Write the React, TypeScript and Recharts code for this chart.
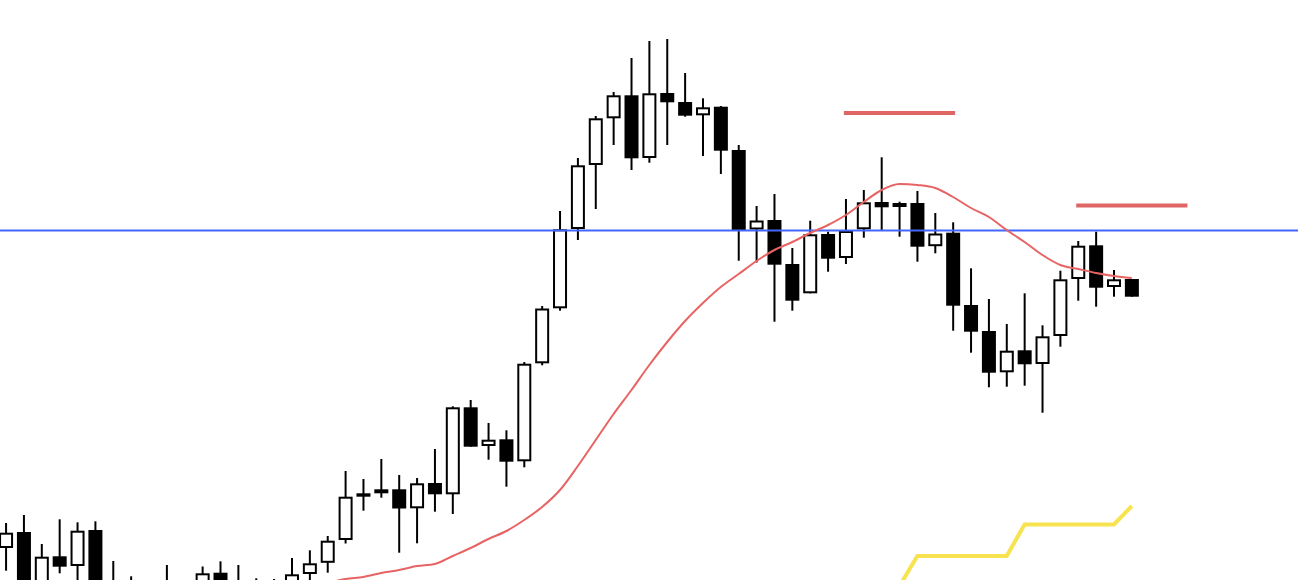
import React from 'react';
import { ComposedChart, XAxis, YAxis, Bar, Line, ReferenceLine } from 'recharts';

// Price values (arbitrary price units, 0..580 visible)
const opens = [
  32, 48, -5, 23.7, 14, 50, -2, -5,
  -8, -6, -10, -4, 7.3, -3, -6, -8,
  -4, 6, 17.2, 40, 86.7, 86.7, 90.7, 71.7,
  97, 85.7, 172.7, 134, 140.7, 118.7, 216.7, 271.7,
  351, 415, 461.7, 484.7, 422, 487, 478, 464.7,
  473.3, 430, 350.5, 360, 316, 286.7, 346, 322,
  350.7, 378, 373, 377, 333.8, 347.3, 275, 249,
  207.7, 229.7, 216, 244, 301, 334.7, 293, 301,
];
const highs = [
  57, 65, 36, 60.7, 57.7, 58.7, 19, 3.7,
  -3, 15, -2, 13.5, 18.7, 15, 1.7, 1,
  22, 29.7, 44, 109, 101, 121, 105, 102,
  131, 173.7, 180, 157, 149.7, 218, 274, 369,
  422, 464, 488, 522, 539, 541, 507, 481.7,
  474, 435, 374, 386, 332, 359.3, 348.3, 381,
  390, 422.7, 378.3, 389, 367, 357.7, 311.7, 281,
  256, 286.7, 254.7, 309.3, 339, 348.3, 310, 301,
];
const lows = [
  9.3, -20, -15, 6.7, -4, -18, -20, -25,
  -22, -24, -18, -12, -14, -18, -14, -12,
  -12, -4, 7.3, 36.5, 69.3, 82.3, 27.3, 36.7,
  68.3, 66, 133.3, 120.3, 93.3, 112.7, 214.7, 269.3,
  340, 371, 435, 410, 417.3, 435, 463.3, 424,
  406, 319.3, 317.5, 258.3, 269.3, 286.7, 308.3, 316,
  342.3, 350, 343.3, 318.3, 326.7, 249.3, 227.3, 192.7,
  193.3, 194.3, 167.3, 233.3, 279.3, 273.3, 283.3, 283.3,
];
const closes = [
  47.3, -10, 23.3, 13.3, 49.3, -8, -12, -15,
  -14, -12, -6, 6.7, -6, -10, -2, -3,
  5.7, 16.7, 39.3, 83.3, 83.3, 90.7, 71.5, 96.7,
  85.7, 172.7, 133.3, 140.3, 118.3, 216.3, 271.5, 350.7,
  414.7, 461.7, 484.7, 421.7, 486.7, 477.7, 464.3, 472.7,
  429.3, 350, 359.5, 315.3, 279.3, 345.7, 321.3, 349,
  377.7, 372.7, 377, 333.3, 346.5, 274.3, 248.3, 207.3,
  229.3, 215.7, 243.7, 300.7, 334.3, 292.3, 300.7, 283.3,
];
// moving average (starts at bar 18)
const maStart = 18;
const maValues = [
  -3, 1, 3, 7, 10, 14, 16, 24,
  32, 41, 49, 60, 73, 90, 114, 140,
  166, 190, 215, 238, 259, 277, 293, 306,
  319, 330, 338, 347, 355, 365, 378, 390,
  396, 395, 392, 383, 372, 363, 350, 338,
  325, 315, 311, 307, 304, 302,
];
// trailing stop line (starts at bar 50)
const stopStart = 50;
const stopValues = [-6, 24, 24, 24, 24, 24, 24, 55.5, 55.5, 55.5, 55.5, 55.5, 55.5, 74];

const redLevels = [
  { from: 47, to: 53, value: 467 },
  { from: 60, to: 66, value: 374.5 },
];
const blueLevel = 349.5;

const data = opens.map((o, i) => ({
  i,
  open: o,
  high: highs[i],
  low: lows[i],
  close: closes[i],
  ma: i >= maStart && i - maStart < maValues.length ? maValues[i - maStart] : null,
  stop: i >= stopStart && i - stopStart < stopValues.length ? stopValues[i - stopStart] : null,
}));

const Candle = (props: any) => {
  const { x, y, width, height, payload } = props;
  if (!payload) return null;
  const { open, close, high, low } = payload;
  const top = Math.min(y, y + height);
  const h = Math.abs(height);
  const ratio = h / (high - low || 1);
  const cx = x + width / 2;
  const yO = top + (high - open) * ratio;
  const yC = top + (high - close) * ratio;
  const bullish = close >= open;
  const bt = Math.min(yO, yC);
  const bb = Math.max(yO, yC);
  return (
    <g>
      <line x1={cx} x2={cx} y1={top} y2={top + h} stroke="#000" strokeWidth={2} />
      <rect
        x={cx - width / 2 + 1}
        y={bt + 1}
        width={width - 2}
        height={Math.max(bb - bt - 2, 0.8)}
        fill={bullish ? '#fff' : '#000'}
        stroke="#000"
        strokeWidth={2}
      />
    </g>
  );
};

export default function App() {
  return (
    <div style={{ position: 'absolute', left: 0, top: 0, width: 1298, height: 580, background: '#fff' }}>
      <ComposedChart width={1298} height={580} data={data} margin={{ top: 0, right: 0, bottom: 0, left: 0 }}>
        <XAxis dataKey="i" type="number" domain={[-0.3357, 72.3]} allowDataOverflow hide />
        <YAxis type="number" domain={[0, 580]} allowDataOverflow hide />
        <ReferenceLine y={blueLevel} stroke="#4466ff" strokeWidth={2} />
        {redLevels.map((r, k) => (
          <ReferenceLine
            key={k}
            segment={[{ x: r.from, y: r.value }, { x: r.to, y: r.value }]}
            stroke="#e06666"
            strokeWidth={4}
            strokeLinecap="square"
          />
        ))}
        <Line
          dataKey="ma"
          type="monotone"
          stroke="#e86464"
          strokeWidth={2}
          dot={false}
          activeDot={false}
          isAnimationActive={false}
        />
        <Bar
          dataKey={(d: any) => [d.low, d.high]}
          barSize={14}
          shape={<Candle />}
          isAnimationActive={false}
        />
        <Line
          dataKey="stop"
          type="linear"
          stroke="#f7e34f"
          strokeWidth={4}
          dot={false}
          activeDot={false}
          isAnimationActive={false}
        />
      </ComposedChart>
    </div>
  );
}
